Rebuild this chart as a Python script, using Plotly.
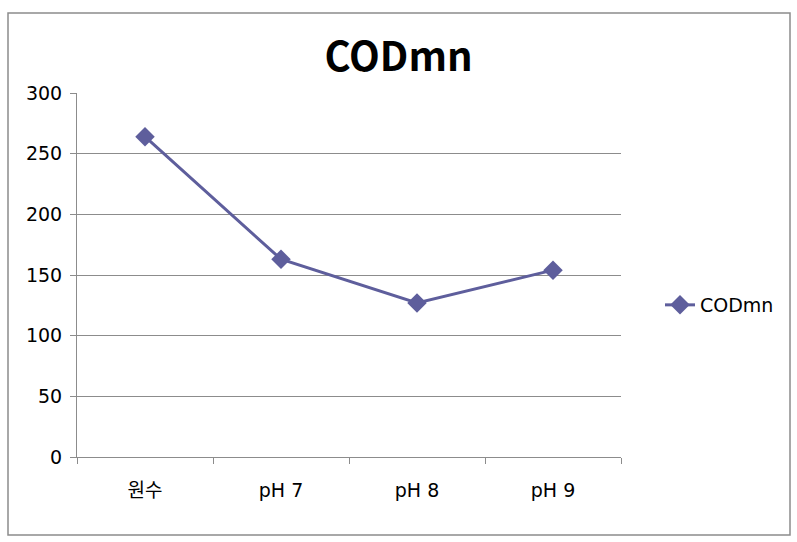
import plotly.graph_objects as go

categories = ["원수", "pH 7", "pH 8", "pH 9"]
codmn = [264, 163, 127, 154]
y_ticks = [0, 50, 100, 150, 200, 250, 300]

FONT = "DejaVu Sans, Noto Sans CJK KR"
TITLE_FONT = "Noto Sans CJK KR"
LINE_COLOR = "#5E5E9C"
GRID = "#8C8C8C"

fig = go.Figure()
fig.add_trace(go.Scatter(
    x=categories, y=codmn, name="CODmn", mode="lines+markers",
    line=dict(color=LINE_COLOR, width=3),
    marker=dict(symbol="diamond", size=15, color=LINE_COLOR),
))

W, H = 797, 542
L, R, T, B = 77, 176, 93, 85
pw, ph = W - L - R, H - T - B

def px_x(p):
    return (p - L) / pw

def px_y(p):
    return (H - B - p) / ph

fig.update_layout(
    width=W, height=H,
    margin=dict(l=L, r=R, t=T, b=B),
    paper_bgcolor="white", plot_bgcolor="white",
    font=dict(family=FONT, size=19, color="#000000"),
    title=dict(text="<b>CODmn</b>", x=0.5, xref="container", xanchor="center",
               y=1 - 57 / H, yanchor="middle",
               font=dict(family=TITLE_FONT, size=40, color="#000000")),
    showlegend=True,
    legend=dict(x=px_x(660), y=px_y(305), xanchor="left", yanchor="middle",
                font=dict(family=FONT, size=19), bgcolor="rgba(0,0,0,0)",
                itemwidth=30),
    xaxis=dict(type="category", tickson="boundaries", ticks="outside",
               ticklen=6, tickcolor=GRID, showline=True, linecolor=GRID,
               linewidth=1, showgrid=False, range=[-0.5, 3.5],
               ticklabelstandoff=16,
               tickfont=dict(family=FONT, size=19), zeroline=False),
    yaxis=dict(range=[0, 300], tickvals=y_ticks, ticks="outside", ticklen=6,
               tickcolor=GRID, showline=True, linecolor=GRID, linewidth=1,
               showgrid=True, gridcolor=GRID, gridwidth=1, zeroline=False,
               ticklabelstandoff=4,
               tickfont=dict(family=FONT, size=19)),
    shapes=[dict(type="rect", xref="paper", yref="paper",
                 x0=px_x(8), x1=px_x(790), y0=px_y(535), y1=px_y(13),
                 line=dict(color="#8C8C8C", width=1.5), layer="below")],
)

fig.write_html("out.html")
